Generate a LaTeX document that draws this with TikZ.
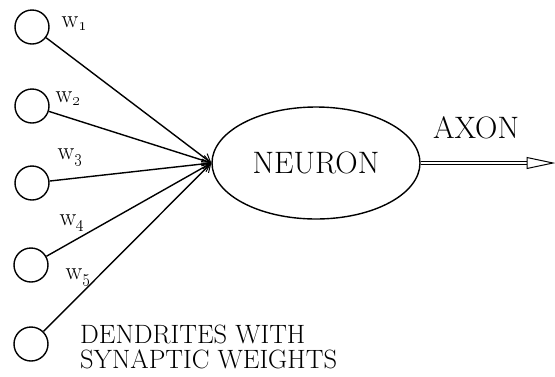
\documentclass[tikz,border=0pt]{standalone}
\usetikzlibrary{shapes.geometric,arrows.meta}
\newcommand{\wlabel}[1]{w\raisebox{-0.28ex}{\fontsize{17}{17}\selectfont\oldstylenums{#1}}}
\begin{document}
\begin{tikzpicture}[x=1pt,y=-1pt,
  input/.style={circle,draw,line width=1.4pt,minimum size=34pt,inner sep=0pt},
  neuronbox/.style={ellipse,draw,line width=1.4pt,minimum width=208pt,minimum height=112pt,inner sep=0pt},
  dendrite/.style={line width=1.4pt,-{Straight Barb[length=8pt,width=10pt,line width=1pt]}},
  weight/.style={font=\fontsize{25}{27}\selectfont,inner sep=0pt},
  biglabel/.style={font=\fontsize{31}{33}\selectfont,inner sep=0pt}]
\useasboundingbox (0,0) rectangle (555,376);
% input units
\node[input] (c1) at (32,27) {};
\node[input] (c2) at (32,106) {};
\node[input] (c3) at (32,183) {};
\node[input] (c4) at (31,265) {};
\node[input] (c5) at (31,344) {};
% neuron body
\node[neuronbox,biglabel] (n) at (316,163) {NEURON};
% dendrites
\foreach \i in {1,...,5}
  \draw[dendrite] (c\i) -- (n.west);
% weights
\node[weight] (w1) at (74,24) {\wlabel{1}};
\node[weight] (w2) at (68,99) {\wlabel{2}};
\node[weight] (w3) at (70,157) {\wlabel{3}};
\node[weight] (w4) at (72,223) {\wlabel{4}};
\node[weight] (w5) at (78,277) {\wlabel{5}};
% axon
\coordinate (axbase) at (527,163);
\coordinate (axend) at (553,163);
\draw[double,line width=1pt,double distance=2.2pt] (n.east) -- (axbase);
\draw[line width=1pt,fill=white] ([yshift=5.5pt]axbase) -- (axend) -- ([yshift=-5.5pt]axbase) -- cycle;
\node[biglabel] (ax) at (476,128) {AXON};
% caption
\node[font=\fontsize{26.5}{25}\selectfont,inner sep=0pt,anchor=north west,align=left] (cap) at (80,325)
  {DENDRITES WITH\\SYNAPTIC WEIGHTS};
\end{tikzpicture}
\end{document}
